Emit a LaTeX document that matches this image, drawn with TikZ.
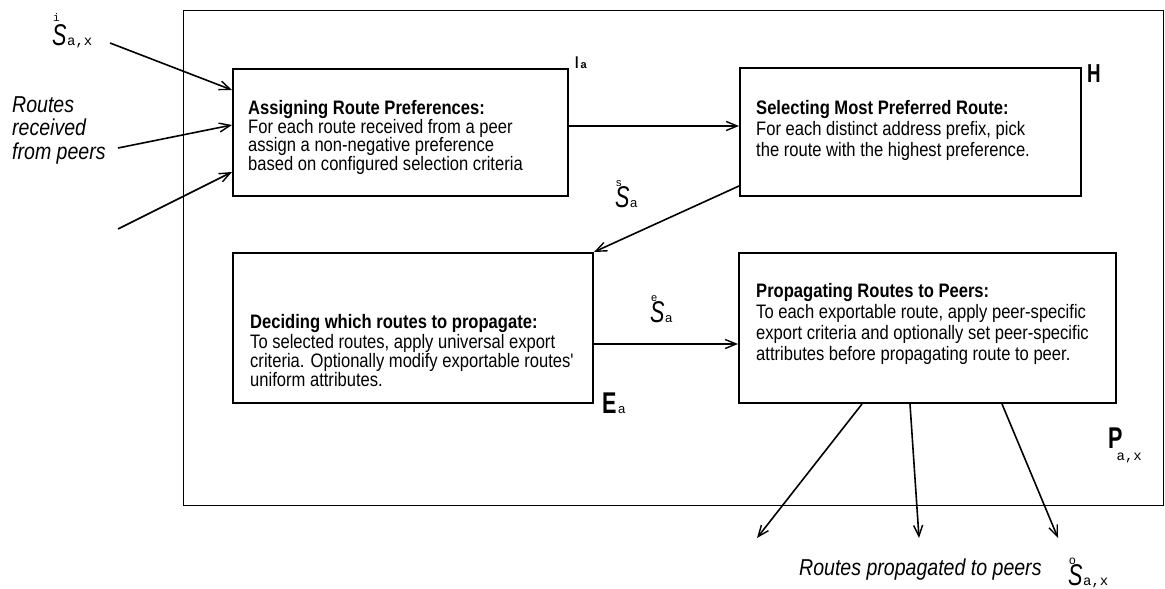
\documentclass[tikz,border=0pt]{standalone}
\usepackage{fontspec}
\setmainfont{Liberation Sans}
\newfontfamily\nf[FakeStretch=0.85]{Liberation Sans}
\newfontfamily\lf[FakeStretch=0.72]{Liberation Sans}
\newfontfamily\mf{Liberation Mono}
\usetikzlibrary{arrows.meta}
\newcommand{\Slab}[3][20pt]{%
  \makebox[0pt][l]{\raisebox{#1}{\kern1pt\fontsize{11}{11}\selectfont #2}}%
  {\lf\itshape\fontsize{30}{30}\selectfont S}\kern0.5pt{#3}}
\tikzset{
  box/.style={draw, line width=2pt, inner sep=0pt, anchor=north west},
  txt/.style={anchor=north west, inner sep=0pt, align=left},
  lbl/.style={anchor=base west, inner sep=0pt},
  flow/.style={line width=1.6pt, -{Straight Barb[length=11pt,width=9pt,line width=1.4pt]}},
}
\begin{document}
\begin{tikzpicture}[x=1pt,y=-1pt]
\useasboundingbox (0,0) rectangle (1165,589);
\fill[white] (0,0) rectangle (1165,589);
% frame
\node[draw, line width=1.3pt, inner sep=0pt, anchor=north west, minimum width=980pt, minimum height=495pt] (F) at (183,10) {};
% boxes
\node[box, minimum width=335pt, minimum height=127pt] (A) at (232,68) {};
\node[box, minimum width=341pt, minimum height=128pt] (B) at (739,67) {};
\node[box, minimum width=360pt, minimum height=150pt] (C) at (232,252) {};
\node[box, minimum width=377pt, minimum height=150pt] (D) at (738,252) {};
% box texts
\node[txt, font=\nf\fontsize{19.5}{18.5}\selectfont] (At) at (248,100.5)
  {\textbf{Assigning Route Preferences:}\\For each route received from a peer\\assign a non-negative preference\\based on configured selection criteria};
\node[txt, font=\nf\fontsize{19.5}{21}\selectfont] (Bt) at (756,100.5)
  {\textbf{Selecting Most Preferred Route:}\\For each distinct address prefix, pick\\the route with the highest preference.};
\node[txt, font=\nf\fontsize{19.5}{18}\selectfont] (Ct) at (250,314.5)
  {\textbf{Deciding which routes to propagate:}\\To selected routes, apply universal export\\criteria. Optionally modify exportable routes'\\uniform attributes.};
\node[txt, font=\nf\fontsize{19.5}{21}\selectfont] (Dt) at (756,283.5)
  {\textbf{Propagating Routes to Peers:}\\To each exportable route, apply peer-specific\\export criteria and optionally set peer-specific\\attributes before propagating route to peer.};
% labels
\node[lbl] (lSi) at (52,45) {\Slab[24pt]{\mf i}{\mf\fontsize{14}{14}\selectfont a,x}};
\node[txt, font=\nf\itshape\fontsize{23}{23.5}\selectfont] (lRr) at (12,96) {Routes\\received\\from peers};
\node[lbl] (lIa) at (575,68) {{\lf\bfseries\fontsize{17}{17}\selectfont I}\kern2pt{\bfseries\fontsize{11}{11}\selectfont a}};
\node[lbl] (lH) at (1087,82) {\lf\bfseries\fontsize{26}{26}\selectfont H};
\node[lbl] (lSs) at (615,207) {\Slab[21pt]{\fontsize{11}{11}\selectfont s}{\fontsize{13}{13}\selectfont a}};
\node[lbl] (lSe) at (650,322) {\Slab[21pt]{\fontsize{11}{11}\selectfont e}{\fontsize{13}{13}\selectfont a}};
\node[lbl] (lEa) at (602,413) {{\lf\bfseries\fontsize{30}{30}\selectfont E}\kern1.5pt{\fontsize{13}{13}\selectfont a}};
\node[lbl] (lPax) at (1108,448) {{\lf\bfseries\fontsize{30}{30}\selectfont P}\kern-6pt\raisebox{-12pt}{\mf\fontsize{14}{14}\selectfont a,x}};
\node[lbl, font=\nf\itshape\fontsize{23}{23}\selectfont] (lRp) at (799,575) {Routes propagated to peers};
\node[lbl] (lSo) at (1068,585) {\Slab[21pt]{\fontsize{12}{12}\selectfont o}{\mf\fontsize{14}{14}\selectfont a,x}};
% free ends
\coordinate (i1) at (110,43);
\coordinate (i2) at (118,148);
\coordinate (i3) at (118,229);
\coordinate (o1) at (757,538);
\coordinate (o2) at (919,538);
\coordinate (o3) at (1058,538);
% connectors
\draw[flow] (i1) -- ([yshift=-22pt]A.north west);
\draw[flow] (i2) -- ([yshift=-57pt]A.north west);
\draw[flow] (i3) -- ([yshift=-104pt]A.north west);
\draw[flow] ([yshift=-58pt]A.north east) -- ([yshift=-58pt]A.north east -| B.west);
\draw[flow] ([yshift=11pt]B.south west) -- (C.north east);
\draw[flow] ([yshift=-92pt]C.north east) -- ([yshift=-92pt]C.north east -| D.west);
\draw[flow] ([xshift=124pt]D.south west) -- (o1);
\draw[flow] ([xshift=172pt]D.south west) -- (o2);
\draw[flow] ([xshift=264pt]D.south west) -- (o3);
\end{tikzpicture}
\end{document}
